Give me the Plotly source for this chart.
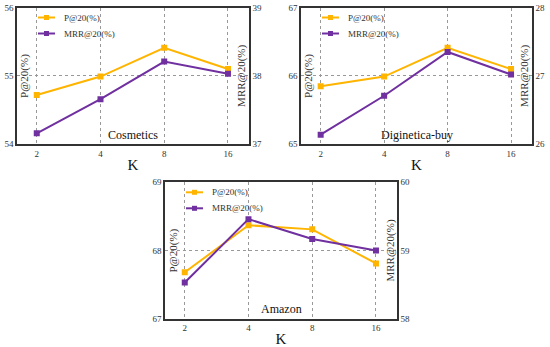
import plotly.graph_objects as go

K = ["2", "4", "8", "16"]

cos_p = [54.72, 54.99, 55.41, 55.10]
cos_mrr = [37.16, 37.66, 38.21, 38.03]

dig_p = [65.85, 65.99, 66.41, 66.10]
dig_mrr = [26.14, 26.71, 27.35, 27.02]

ama_p = [67.68, 68.37, 68.31, 67.81]
ama_mrr = [58.53, 59.46, 59.17, 59.00]

names = ["Cosmetics", "Diginetica-buy", "Amazon"]
p_ranges = [[54, 56], [65, 67], [67, 69]]
mrr_ranges = [[37, 39], [26, 28], [58, 60]]
p_data = [cos_p, dig_p, ama_p]
mrr_data = [cos_mrr, dig_mrr, ama_mrr]

ORANGE = "#FFB400"
PURPLE = "#7030A0"
FONT = "Liberation Serif"

W, H = 550, 347
# panel boxes in window pixels (left, right, top, bottom)
boxes = [(17, 249, 7.5, 144.3), (301, 532, 7.5, 144.3), (165, 397, 182.3, 318.7)]

fig = go.Figure()
layout = dict(width=W, height=H, margin=dict(l=0, r=0, t=0, b=0, autoexpand=False),
              paper_bgcolor="white", plot_bgcolor="white", showlegend=False,
              font=dict(family=FONT, size=9, color="#333"))

shapes = []
annotations = []
for i in range(3):
    L, R, T, B = boxes[i]
    xd = [L / W, R / W]
    yd = [1 - B / H, 1 - T / H]
    xa = "xaxis" if i == 0 else f"xaxis{i+1}"
    xr = "x" if i == 0 else f"x{i+1}"
    ya_l_n = 2 * i + 1
    ya_r_n = 2 * i + 2
    ya_l = "yaxis" if ya_l_n == 1 else f"yaxis{ya_l_n}"
    yr_l = "y" if ya_l_n == 1 else f"y{ya_l_n}"
    ya_r = f"yaxis{ya_r_n}"
    yr_r = f"y{ya_r_n}"

    layout[xa] = dict(domain=xd, anchor=yr_l, type="category", range=[-0.31, 3.33],
                      showline=True, linecolor="#333", linewidth=1.6, mirror=True,
                      showgrid=True, gridcolor="#999", griddash="dot", gridwidth=1,
                      ticks="", tickfont=dict(family=FONT, size=9, color="#333"),
                      automargin=False,
                      title=dict(text="K", font=dict(family=FONT, size=15, color="#111"), standoff=2),
                      zeroline=False)
    layout[ya_l] = dict(domain=yd, anchor=xr, range=p_ranges[i], dtick=1,
                        showline=True, linecolor="#333", linewidth=1.6, automargin=False,
                        showgrid=True, gridcolor="#999", griddash="dot", gridwidth=1,
                        ticks="", tickfont=dict(family=FONT, size=9, color="#333"),
                        zeroline=False)
    layout[ya_r] = dict(overlaying=yr_l, side="right", anchor=xr, range=mrr_ranges[i], dtick=1,
                        showline=True, linecolor="#333", linewidth=1.6, showgrid=False,
                        automargin=False,
                        ticks="", tickfont=dict(family=FONT, size=9, color="#333"),
                        zeroline=False)

    fig.add_trace(go.Scatter(x=K, y=p_data[i], mode="lines+markers", name="P@20(%)",
                             line=dict(color=ORANGE, width=2),
                             marker=dict(symbol="square", size=6, color=ORANGE),
                             xaxis=xr, yaxis=yr_l))
    fig.add_trace(go.Scatter(x=K, y=mrr_data[i], mode="lines+markers", name="MRR@20(%)",
                             line=dict(color=PURPLE, width=2),
                             marker=dict(symbol="square", size=6, color=PURPLE),
                             xaxis=xr, yaxis=yr_r))

    bw = R - L
    bh = B - T
    # custom legend
    for j, (col, lab) in enumerate([(ORANGE, "P@20(%)"), (PURPLE, "MRR@20(%)")]):
        yy = 1 - (10 + 16 * j) / bh
        x0 = 21 / bw
        x1 = 38 / bw
        shapes.append(dict(type="line", xref=f"{xr} domain", yref=f"{yr_l} domain",
                           x0=x0, x1=x1, y0=yy, y1=yy, line=dict(color=col, width=2)))
        xm = 29.5 / bw
        shapes.append(dict(type="rect", xref=f"{xr} domain", yref=f"{yr_l} domain",
                           x0=xm - 2.5 / bw, x1=xm + 2.5 / bw, y0=yy - 2.5 / bh, y1=yy + 2.5 / bh,
                           fillcolor=col, line=dict(width=0)))
        annotations.append(dict(text=lab, xref=f"{xr} domain", yref=f"{yr_l} domain",
                                x=44.5 / bw, y=yy, xanchor="left", yanchor="middle",
                                showarrow=False, font=dict(family=FONT, size=9, color="#333")))
    # y titles inside
    annotations.append(dict(text="P@20(%)", xref=f"{xr} domain", yref=f"{yr_l} domain",
                            x=8 / bw, y=0.5, textangle=-90, showarrow=False,
                            xanchor="center", yanchor="middle",
                            font=dict(family=FONT, size=11, color="#333")))
    annotations.append(dict(text="MRR@20(%)", xref=f"{xr} domain", yref=f"{yr_l} domain",
                            x=1 - 7 / bw, y=0.5, textangle=-90, showarrow=False,
                            xanchor="center", yanchor="middle",
                            font=dict(family=FONT, size=11, color="#333")))
    # dataset name
    annotations.append(dict(text=names[i], xref=f"{xr} domain", yref=f"{yr_l} domain",
                            x=0.5, y=9.5 / bh, showarrow=False, xanchor="center", yanchor="middle",
                            font=dict(family=FONT, size=12, color="#111")))

layout["shapes"] = shapes
layout["annotations"] = annotations
fig.update_layout(**layout)
fig.write_html("out.html", config={"displayModeBar": False},
               post_script="document.body.style.margin='0px';document.body.style.overflow='hidden';")
